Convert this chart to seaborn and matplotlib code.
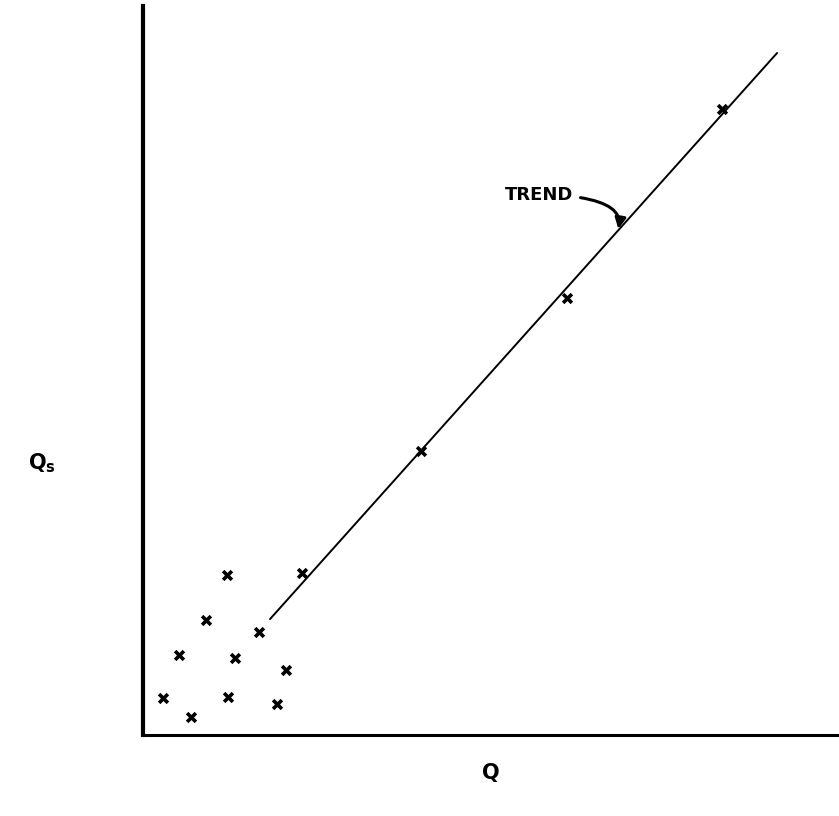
import matplotlib
matplotlib.use("Agg")
import matplotlib.pyplot as plt
import seaborn as sns
import pandas as pd

# Data (arbitrary units, 0-100 scale)
q_values = [2.9, 6.9, 5.2, 9.05, 12.1, 12.2, 13.2, 16.7, 19.3, 20.6, 22.8, 39.9, 60.9, 83.2]
qs_values = [5.1, 2.5, 11.0, 15.8, 22.0, 5.2, 10.6, 14.1, 4.3, 8.9, 22.2, 39.0, 60.0, 85.9]
trend_q = [18.25, 91.1]
trend_qs = [15.9, 93.55]
trend_label = "TREND"

pts = pd.DataFrame({"Q": q_values, "Qs": qs_values})
trend = pd.DataFrame({"Q": trend_q, "Qs": trend_qs})

sns.set_style("white")
plt.rcParams["text.color"] = "black"
fig = plt.figure(figsize=(8.39, 8.16), dpi=100)
ax = fig.add_axes([143 / 839, (816 - 735) / 816, 1 - 143 / 839, (735 - 6) / 816])

sns.lineplot(data=trend, x="Q", y="Qs", ax=ax, color="black", linewidth=1.4)
sns.scatterplot(data=pts, x="Q", y="Qs", ax=ax, marker="x", color="black",
                s=40, linewidth=2.6, zorder=3)

ax.annotate(trend_label, xy=(68.3, 69.4), xytext=(61.8, 74.1),
            ha="right", va="center", fontsize=13, fontweight="bold", color="black",
            arrowprops=dict(arrowstyle="-|>", color="black", lw=2.2,
                            mutation_scale=16, shrinkA=3, shrinkB=0,
                            connectionstyle="angle3,angleA=0,angleB=80"))

ax.set_xlim(0, 100)
ax.set_ylim(0, 100)
ax.set_xticks([])
ax.set_yticks([])
ax.set_xlabel("")
ax.set_ylabel("")
for s in ["top", "right"]:
    ax.spines[s].set_visible(False)
ax.spines["left"].set_linewidth(3.0)
ax.spines["bottom"].set_linewidth(2.2)
ax.spines["left"].set_color("black")
ax.spines["bottom"].set_color("black")

fig.text(28 / 839, 1 - 463 / 816, r"$\mathbf{Q}_{\mathbf{s}}$", ha="left", va="center",
         fontsize=15, color="black", transform=fig.transFigure)
fig.text(490 / 839, 1 - 773 / 816, r"$\mathbf{Q}$", ha="center", va="center",
         fontsize=15, color="black", transform=fig.transFigure)

fig.savefig("out.png", dpi=100, facecolor="white")
